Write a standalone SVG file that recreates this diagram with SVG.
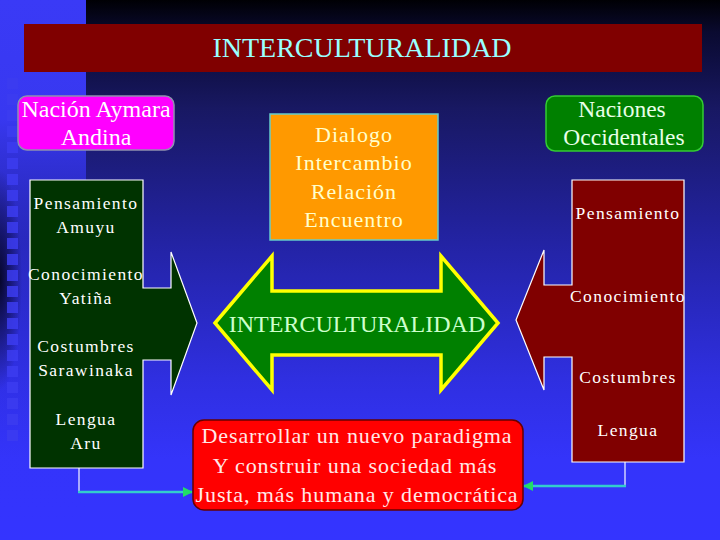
<svg xmlns="http://www.w3.org/2000/svg" width="720" height="540" viewBox="0 0 720 540" font-family="'Liberation Serif', 'Times New Roman', serif">
<defs>
<linearGradient id="bg" x1="0" y1="0" x2="0" y2="1">
<stop offset="0" stop-color="#000004"/>
<stop offset="0.06" stop-color="#0a0a30"/>
<stop offset="0.2" stop-color="#181862"/>
<stop offset="0.45" stop-color="#2323a4"/>
<stop offset="0.7" stop-color="#2f2fe0"/>
<stop offset="0.85" stop-color="#3434fa"/>
<stop offset="1" stop-color="#3434ff"/>
</linearGradient>
<linearGradient id="strip" x1="0" y1="0" x2="0" y2="1">
<stop offset="0" stop-color="#3a3af6" stop-opacity="1"/>
<stop offset="0.22" stop-color="#3838f0" stop-opacity="1"/>
<stop offset="0.45" stop-color="#2c2cd0" stop-opacity="0.6"/>
<stop offset="0.8" stop-color="#3333f8" stop-opacity="0.3"/>
<stop offset="1" stop-color="#3434ff" stop-opacity="0"/>
</linearGradient>
<radialGradient id="shadow" cx="0.5" cy="0.5" r="0.5">
<stop offset="0" stop-color="#000010" stop-opacity="0.85"/>
<stop offset="1" stop-color="#000010" stop-opacity="0"/>
</radialGradient>
<marker id="ah" viewBox="0 0 10 10" refX="9" refY="5" markerWidth="4" markerHeight="4" orient="auto">
<path d="M0,0 L10,5 L0,10 Z" fill="#22dd66"/>
</marker>
<style>
text{text-anchor:middle}
.w{fill:#ffffff;font-size:17.5px;letter-spacing:1.4px}
.d{fill:#ffffcc;font-size:22px;letter-spacing:1px}
.r{fill:#ffe8e8;font-size:22px;letter-spacing:0.9px}
.sq{fill:#3c3cf0;opacity:0.85}
.conn{fill:none;stroke:#33cccc;stroke-width:2.5}
.stem{fill:none;stroke:#d0d0ff;stroke-width:1.5}
</style>
</defs>

<g id="background">
<rect x="0" y="0" width="720" height="540" fill="url(#bg)"/>
<rect x="0" y="0" width="86" height="540" fill="url(#strip)"/>
<ellipse cx="0" cy="280" rx="22" ry="110" fill="url(#shadow)"/>
<g id="squares">
<rect class="sq" x="7" y="78" width="11" height="11"/>
<rect class="sq" x="7" y="94" width="11" height="11"/>
<rect class="sq" x="7" y="110" width="11" height="11"/>
<rect class="sq" x="7" y="126" width="11" height="11"/>
<rect class="sq" x="7" y="142" width="11" height="11"/>
<rect class="sq" x="7" y="158" width="11" height="11"/>
<rect class="sq" x="7" y="174" width="11" height="11"/>
<rect class="sq" x="7" y="190" width="11" height="11"/>
<rect class="sq" x="7" y="206" width="11" height="11"/>
<rect class="sq" x="7" y="222" width="11" height="11"/>
<rect class="sq" x="7" y="238" width="11" height="11"/>
<rect class="sq" x="7" y="254" width="11" height="11"/>
<rect class="sq" x="7" y="270" width="11" height="11"/>
<rect class="sq" x="7" y="286" width="11" height="11"/>
<rect class="sq" x="7" y="302" width="11" height="11"/>
<rect class="sq" x="7" y="318" width="11" height="11"/>
<rect class="sq" x="7" y="334" width="11" height="11"/>
<rect class="sq" x="7" y="350" width="11" height="11"/>
<rect class="sq" x="7" y="366" width="11" height="11"/>
<rect class="sq" x="7" y="382" width="11" height="11"/>
<rect class="sq" x="7" y="398" width="11" height="11"/>
<rect class="sq" x="7" y="414" width="11" height="11"/>
<rect class="sq" x="7" y="430" width="11" height="11"/>
</g>
</g>

<g id="title">
<rect x="24" y="24" width="678" height="48" fill="#800000"/>
<text x="362" y="57" font-size="28" fill="#99ffff">INTERCULTURALIDAD</text>
</g>

<g id="connectors">
<polyline class="stem" points="79,468 79,492"/>
<polyline class="conn" points="78,492 192,492" marker-end="url(#ah)"/>
<polyline class="stem" points="625,462 625,486"/>
<polyline class="conn" points="626,486 524,486" marker-end="url(#ah)"/>
</g>

<g id="nacion-aymara">
<rect x="18" y="96" width="156" height="54" rx="9" fill="#ff00ff" stroke="#9090b0" stroke-width="1.5"/>
<text x="96" y="117" font-size="24" fill="#ffffff">Nación Aymara</text>
<text x="96" y="145" font-size="24" fill="#ffffff">Andina</text>
</g>

<g id="andina-arrow">
<path d="M30,180 H143 V288 H171 V252 L197,323 L171,395 V360 H143 V468 H30 Z" fill="#003300" stroke="#ffffff" stroke-width="1.2"/>
<text class="w" x="86" y="209">Pensamiento</text>
<text class="w" x="86" y="233">Amuyu</text>
<text class="w" x="86" y="280">Conocimiento</text>
<text class="w" x="86" y="304">Yatiña</text>
<text class="w" x="86" y="352">Costumbres</text>
<text class="w" x="86" y="376">Sarawinaka</text>
<text class="w" x="86" y="425">Lengua</text>
<text class="w" x="86" y="449">Aru</text>
</g>

<g id="dialogo">
<rect x="270" y="114" width="168" height="126" fill="#ff9900" stroke="#66cccc" stroke-width="1.5"/>
<text class="d" x="354" y="142">Dialogo</text>
<text class="d" x="354" y="170">Intercambio</text>
<text class="d" x="354" y="199">Relación</text>
<text class="d" x="354" y="227">Encuentro</text>
</g>

<g id="interculturalidad-arrow">
<path d="M215,323 L272,256 V291 H441 V256 L498,323 L441,390 V355 H272 V390 Z" fill="#008000" stroke="#ffff00" stroke-width="3.5" stroke-linejoin="miter"/>
<text x="357" y="332" font-size="24" fill="#ccffcc">INTERCULTURALIDAD</text>
</g>

<g id="paradigma">
<rect x="193" y="420" width="330" height="90" rx="11" fill="#ff0000" stroke="#660000" stroke-width="1.5"/>
<text class="r" x="357" y="443">Desarrollar un nuevo paradigma</text>
<text class="r" x="355" y="473">Y construir una sociedad más</text>
<text class="r" x="357" y="502">Justa, más humana y democrática</text>
</g>

<g id="naciones-occidentales">
<rect x="546" y="96" width="157" height="55" rx="9" fill="#008000" stroke="#33cc33" stroke-width="1.5"/>
<text x="622" y="117" font-size="23.5" fill="#e8ffe8">Naciones</text>
<text x="624" y="145" font-size="23.5" fill="#e8ffe8">Occidentales</text>
</g>

<g id="occidental-arrow">
<path d="M684,180 H572 V285 H544 V250 L516,320 L544,390 V357 H572 V462 H684 Z" fill="#800000" stroke="#ffffff" stroke-width="1.2"/>
<text class="w" x="628" y="219">Pensamiento</text>
<text class="w" x="628" y="302">Conocimiento</text>
<text class="w" x="628" y="383">Costumbres</text>
<text class="w" x="628" y="436">Lengua</text>
</g>
</svg>
